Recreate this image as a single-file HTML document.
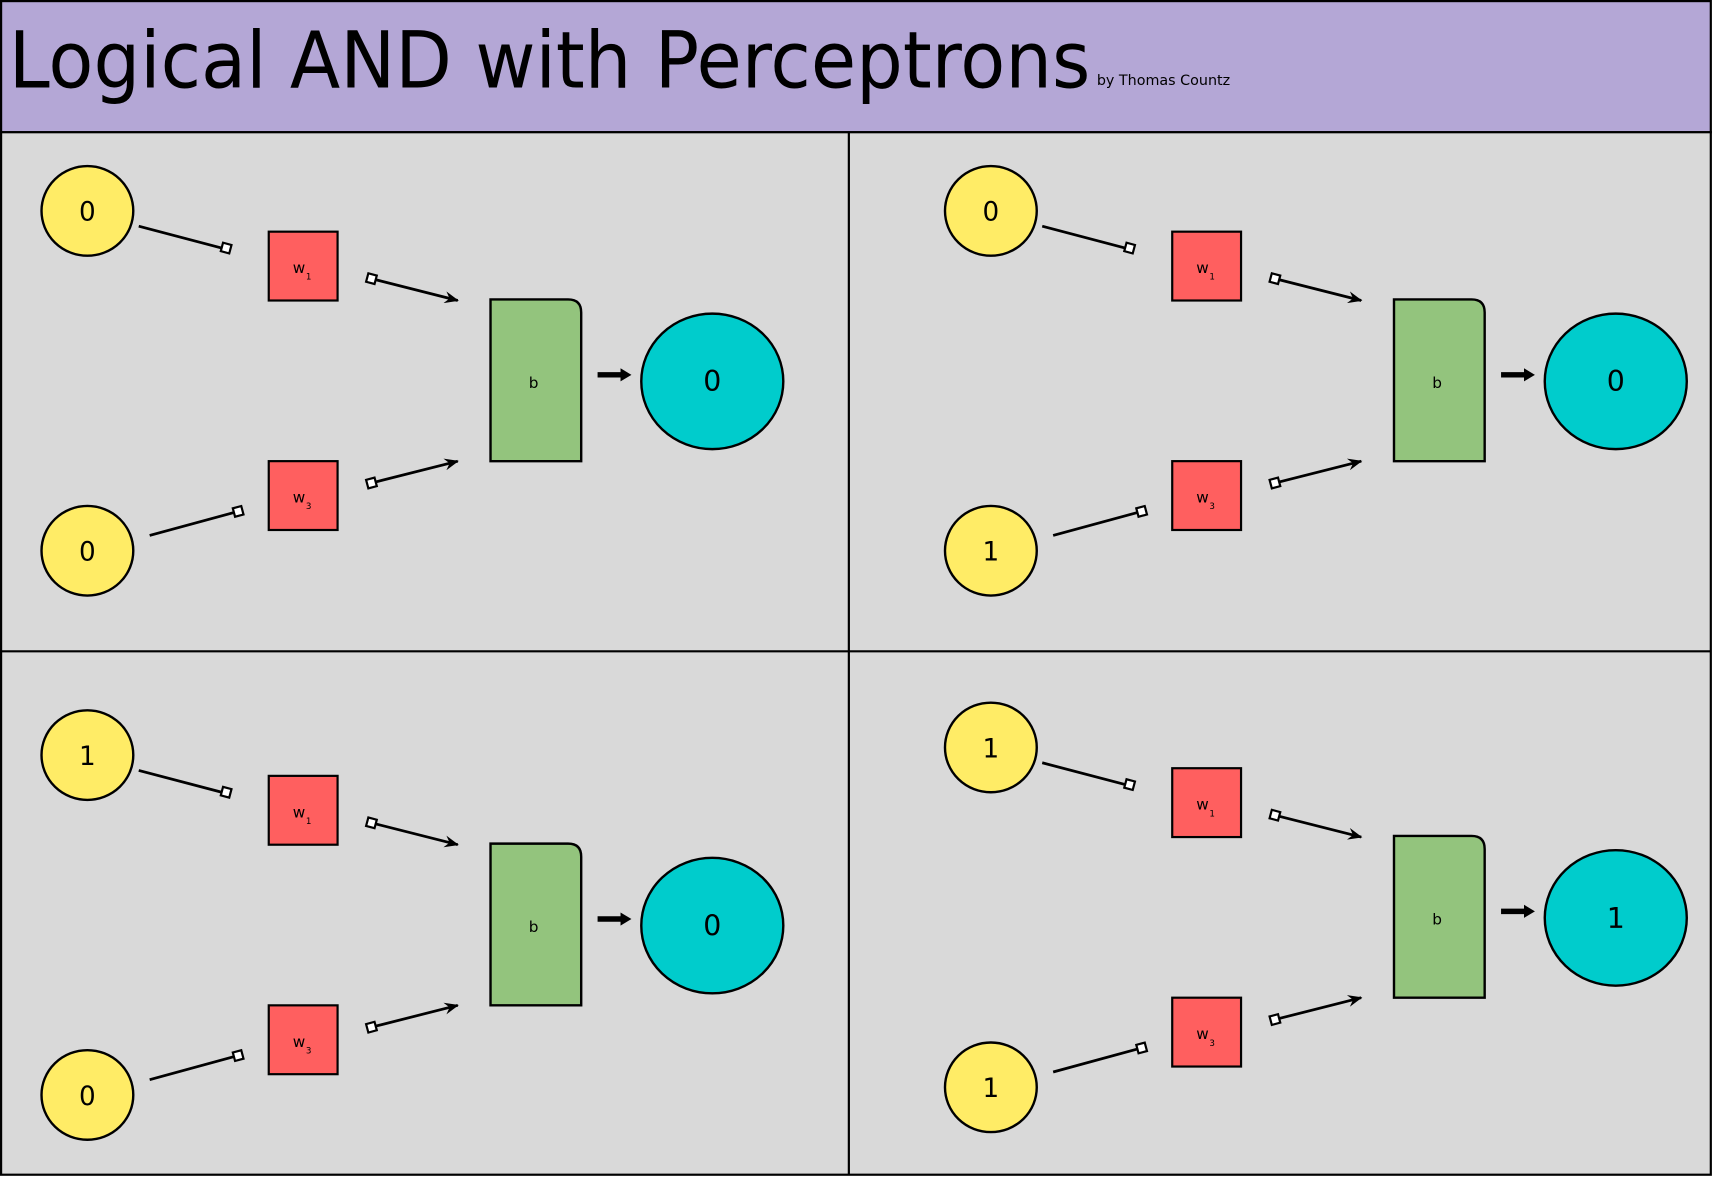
<!DOCTYPE html>
<html><head><meta charset="utf-8"><style>html,body{margin:0;padding:0;background:#fff}svg{display:block}</style></head>
<body>
<svg width="1713" height="1178" viewBox="0 0 1568 1078" preserveAspectRatio="none" xmlns="http://www.w3.org/2000/svg" font-family="'DejaVu Sans','Liberation Sans',sans-serif">
<defs>
<marker id="ah" viewBox="0 0 12 10" refX="11" refY="5" markerWidth="14" markerHeight="11" markerUnits="userSpaceOnUse" orient="auto"><path d="M0,0 L12,5 L0,10 L4,5 Z" fill="#000"/></marker>
<g id="panel" text-anchor="start">
  <line x1="127" y1="207" x2="203" y2="227" stroke="#000" stroke-width="2.5"/>
  <rect x="203" y="223" width="8" height="8" fill="#fff" stroke="#000" stroke-width="2" transform="rotate(15 207 227)"/>
  <rect x="246" y="212" width="63" height="63" fill="#ff5f5f" stroke="#000" stroke-width="2"/>
  <text x="268" y="250" font-size="14">w</text><text x="280" y="256" font-size="8">1</text>
  <line x1="344" y1="256" x2="419" y2="275" stroke="#000" stroke-width="2.5" marker-end="url(#ah)"/>
  <rect x="336" y="251" width="8" height="8" fill="#fff" stroke="#000" stroke-width="2" transform="rotate(15 340 255)"/>
  <path d="M449,274 H520 Q532,274 532,286 V422 H449 Z" fill="#93c47d" stroke="#000" stroke-width="2.2"/>
  <text x="484" y="355" font-size="14">b</text>
  <line x1="547" y1="343" x2="570" y2="343" stroke="#000" stroke-width="5"/>
  <path d="M568,337 L578,343 L568,349 Z" fill="#000"/>
  <ellipse cx="652" cy="349" rx="65" ry="62" fill="#00cccc" stroke="#000" stroke-width="2.2"/>
  <line x1="137" y1="490" x2="214" y2="469" stroke="#000" stroke-width="2.5"/>
  <rect x="214" y="464" width="8" height="8" fill="#fff" stroke="#000" stroke-width="2" transform="rotate(-15 218 468)"/>
  <rect x="246" y="422" width="63" height="63" fill="#ff5f5f" stroke="#000" stroke-width="2"/>
  <text x="268" y="460" font-size="14">w</text><text x="280" y="466" font-size="8">3</text>
  <line x1="344" y1="441" x2="419" y2="422" stroke="#000" stroke-width="2.5" marker-end="url(#ah)"/>
  <rect x="336" y="438" width="8" height="8" fill="#fff" stroke="#000" stroke-width="2" transform="rotate(-15 340 442)"/>
  <ellipse cx="80" cy="193" rx="42" ry="41" fill="#ffec66" stroke="#000" stroke-width="2.2"/>
  <ellipse cx="80" cy="504" rx="42" ry="41" fill="#ffec66" stroke="#000" stroke-width="2.2"/>
</g>
</defs>
<rect x="0" y="0" width="1568" height="1078" fill="#fff"/>
<rect x="1" y="1" width="1565" height="120" fill="#b4a7d6" stroke="#000" stroke-width="2"/>
<text x="8" y="80" font-size="72" textLength="990" lengthAdjust="spacingAndGlyphs">Logical AND with Perceptrons</text>
<text x="1004" y="78" font-size="13" textLength="122" lengthAdjust="spacingAndGlyphs">by Thomas Countz</text>
<rect x="1" y="121" width="1565" height="954" fill="#d9d9d9" stroke="#000" stroke-width="2"/>
<line x1="777" y1="121" x2="777" y2="1075" stroke="#000" stroke-width="2"/>
<line x1="1" y1="596" x2="1566" y2="596" stroke="#000" stroke-width="2"/>
<use href="#panel"/>
<use href="#panel" transform="translate(827,0)"/>
<use href="#panel" transform="translate(0,498)"/>
<use href="#panel" transform="translate(827,491)"/>
<g font-size="24" text-anchor="middle">
<text x="80" y="202">0</text><text x="80" y="513">0</text><text x="652" y="358" font-size="26">0</text>
<g transform="translate(827,0)">
<text x="80" y="202">0</text><text x="80" y="513">1</text><text x="652" y="358" font-size="26">0</text></g>
<g transform="translate(0,498)">
<text x="80" y="202">1</text><text x="80" y="513">0</text><text x="652" y="358" font-size="26">0</text></g>
<g transform="translate(827,491)">
<text x="80" y="202">1</text><text x="80" y="513">1</text><text x="652" y="358" font-size="26">1</text></g>
</g>
</svg>
</body></html>
